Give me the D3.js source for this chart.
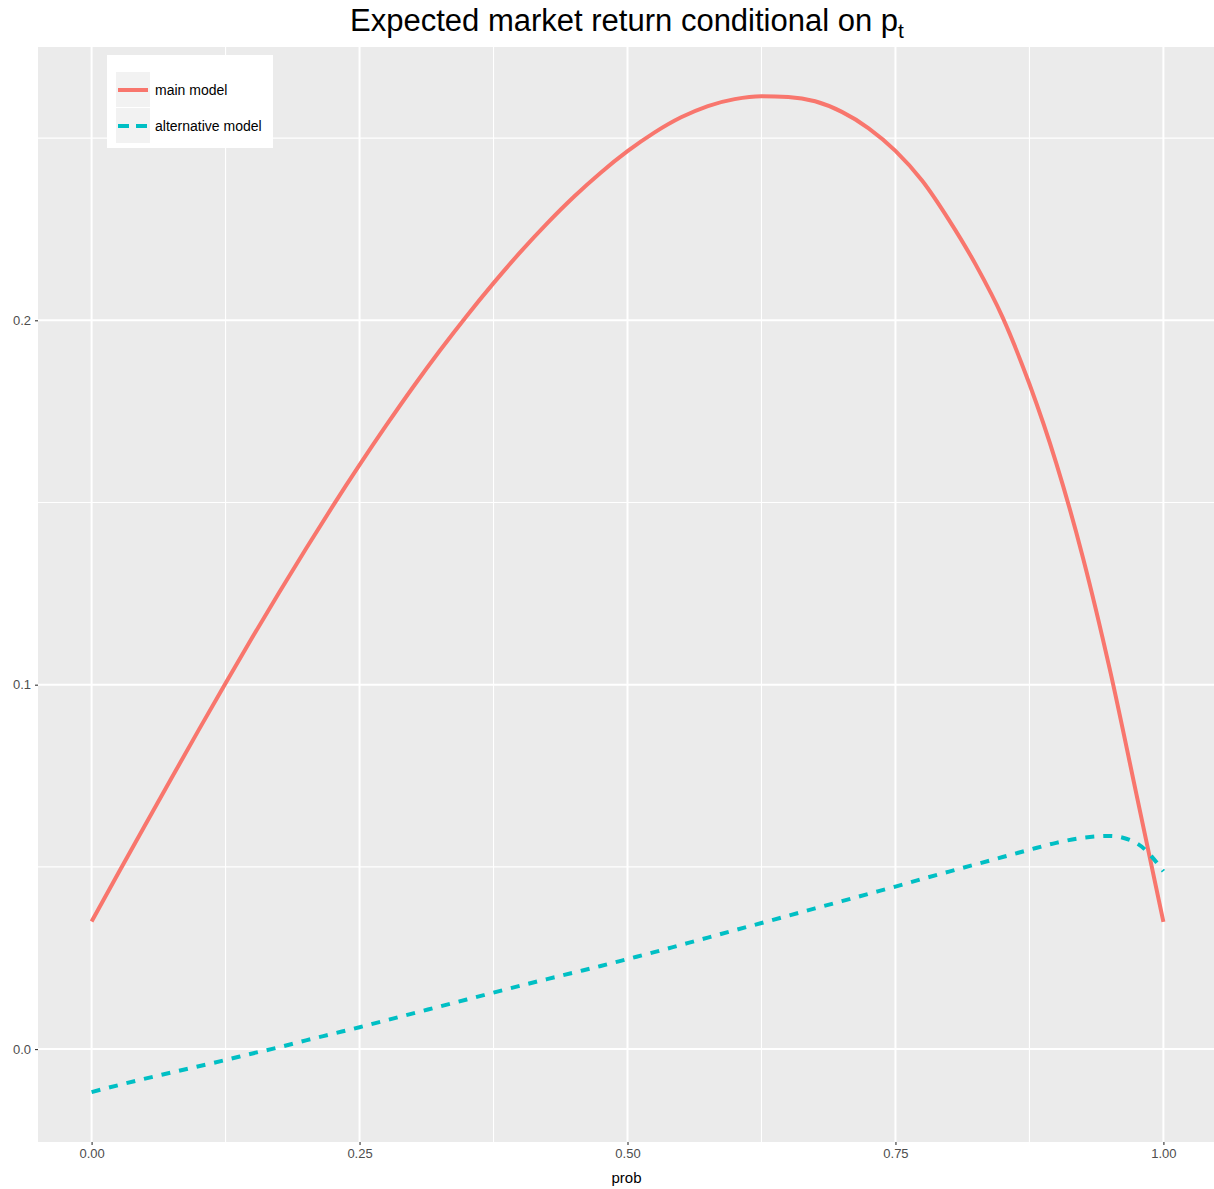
<!DOCTYPE html>
<html>
<head>
<meta charset="utf-8">
<script src="https://cdn.jsdelivr.net/npm/d3@7"></script>
<style>
  body { margin: 0; background: #fff; }
  svg { display: block; font-family: "Liberation Sans", Arial, sans-serif; }
</style>
</head>
<body>
<svg id="svg" width="1214" height="1189"></svg>
<script>
var prob = [0, 0.025, 0.05, 0.075, 0.1, 0.125, 0.15, 0.175, 0.2, 0.225,
  0.25, 0.275, 0.3, 0.325, 0.35, 0.375, 0.4, 0.425, 0.45, 0.475,
  0.5, 0.525, 0.55, 0.575, 0.6, 0.625, 0.65, 0.675, 0.7, 0.725,
  0.75, 0.775, 0.8, 0.825, 0.85, 0.875, 0.9, 0.925, 0.95, 0.975, 1];
var mainModel = [0.035, 0.0483, 0.0615, 0.0746, 0.0876, 0.1004, 0.113, 0.1253, 0.1373, 0.149,
  0.1603, 0.1712, 0.1817, 0.1917, 0.2012, 0.2102, 0.2187, 0.2266, 0.2339, 0.2405,
  0.2464, 0.2515, 0.2557, 0.2588, 0.2607, 0.2615, 0.2613, 0.2601, 0.2572, 0.2527,
  0.2465, 0.2383, 0.2275, 0.2152, 0.2008, 0.1825, 0.1608, 0.1348, 0.1042, 0.0697, 0.0349];
var altModel = [-0.0118, -0.0099, -0.0081, -0.0064, -0.0047, -0.003, -0.0012, 0.0005, 0.0024, 0.0042,
  0.006, 0.0079, 0.0098, 0.0117, 0.0136, 0.0155, 0.0174, 0.0192, 0.021, 0.0228,
  0.0247, 0.0266, 0.0286, 0.0306, 0.0326, 0.0346, 0.0366, 0.0386, 0.0406, 0.0426,
  0.0446, 0.0467, 0.0487, 0.0507, 0.0527, 0.0547, 0.0566, 0.058, 0.0585, 0.0565, 0.0488];
var xTicks = [0, 0.25, 0.5, 0.75, 1];
var xMinor = [0.125, 0.375, 0.625, 0.875];
var yTicks = [0, 0.1, 0.2];
var yMinor = [0.05, 0.15, 0.25];
var seriesNames = ["main model", "alternative model"];
var colors = ["#F8766D", "#00BFC4"];

var svg = d3.select("#svg");
var panel = { left: 38, right: 1217, top: 47, bottom: 1142 };

var xScale = d3.scaleLinear().domain([-0.05, 1.05]).range([panel.left, panel.right]);
var yScale = d3.scaleLinear().domain([-0.0255, 0.275]).range([panel.bottom, panel.top]);

// panel background
svg.append("rect")
  .attr("x", panel.left).attr("y", panel.top)
  .attr("width", panel.right - panel.left).attr("height", panel.bottom - panel.top)
  .attr("fill", "#EBEBEB");

// grid
var grid = svg.append("g").attr("class", "grid");
grid.selectAll(".xminor").data(xMinor).enter().append("line")
  .attr("x1", xScale).attr("x2", xScale)
  .attr("y1", panel.top).attr("y2", panel.bottom)
  .attr("stroke", "#fff").attr("stroke-width", 1.1);
grid.selectAll(".yminor").data(yMinor).enter().append("line")
  .attr("y1", yScale).attr("y2", yScale)
  .attr("x1", panel.left).attr("x2", panel.right)
  .attr("stroke", "#fff").attr("stroke-width", 1.1);
grid.selectAll(".xmajor").data(xTicks).enter().append("line")
  .attr("x1", xScale).attr("x2", xScale)
  .attr("y1", panel.top).attr("y2", panel.bottom)
  .attr("stroke", "#fff").attr("stroke-width", 2);
grid.selectAll(".ymajor").data(yTicks).enter().append("line")
  .attr("y1", yScale).attr("y2", yScale)
  .attr("x1", panel.left).attr("x2", panel.right)
  .attr("stroke", "#fff").attr("stroke-width", 2);

// lines
var line = d3.line()
  .x(function (d) { return xScale(d[0]); })
  .y(function (d) { return yScale(d[1]); })
  .curve(d3.curveMonotoneX);

svg.append("path")
  .datum(prob.map(function (p, i) { return [p, mainModel[i]]; }))
  .attr("d", line)
  .attr("fill", "none")
  .attr("stroke", colors[0])
  .attr("stroke-width", 4);

svg.append("path")
  .datum(prob.map(function (p, i) { return [p, altModel[i]]; }))
  .attr("d", line)
  .attr("fill", "none")
  .attr("stroke", colors[1])
  .attr("stroke-width", 4)
  .attr("stroke-dasharray", "9,9");

// axes
var xAxis = svg.append("g")
  .attr("transform", "translate(0," + panel.bottom + ")")
  .call(d3.axisBottom(xScale).tickValues(xTicks).tickFormat(d3.format(".2f")).tickSize(3).tickPadding(4));
var yAxis = svg.append("g")
  .attr("transform", "translate(" + panel.left + ",0)")
  .call(d3.axisLeft(yScale).tickValues(yTicks).tickFormat(d3.format(".1f")).tickSize(3).tickPadding(4));
[xAxis, yAxis].forEach(function (a) {
  a.select(".domain").remove();
  a.selectAll(".tick line").attr("stroke", "#333333").attr("stroke-width", 1.1);
  a.selectAll(".tick text").attr("fill", "#4D4D4D")
    .style("font-size", "13px").style("font-family", "'Liberation Sans', Arial, sans-serif");
});

// axis title
svg.append("text")
  .attr("x", (panel.left + panel.right) / 2 - 1)
  .attr("y", 1183)
  .attr("text-anchor", "middle")
  .style("font-size", "15px")
  .attr("fill", "#000")
  .text("prob");

// title
var title = svg.append("text")
  .attr("x", 627)
  .attr("y", 31)
  .attr("text-anchor", "middle")
  .style("font-size", "31px")
  .attr("fill", "#000");
title.append("tspan").text("Expected market return conditional on p");
title.append("tspan").attr("dy", 7).style("font-size", "21px").text("t");

// legend
var legend = svg.append("g").attr("transform", "translate(107,55)");
legend.append("rect").attr("width", 166).attr("height", 93).attr("fill", "#fff");
var keys = legend.selectAll(".key").data(seriesNames).enter().append("g")
  .attr("transform", function (d, i) { return "translate(9," + (17 + i * 36) + ")"; });
keys.append("rect").attr("width", 34).attr("height", 35).attr("fill", "#F2F2F2");
keys.append("line")
  .attr("x1", 2).attr("x2", 32).attr("y1", 18).attr("y2", 18)
  .attr("stroke", function (d, i) { return colors[i]; })
  .attr("stroke-width", 4)
  .attr("stroke-dasharray", function (d, i) { return i === 1 ? "11,7" : null; });
keys.append("text")
  .attr("x", 39).attr("y", 18).attr("dy", "0.35em")
  .style("font-size", "14px")
  .attr("fill", "#000")
  .text(function (d) { return d; });
</script>
</body>
</html>
